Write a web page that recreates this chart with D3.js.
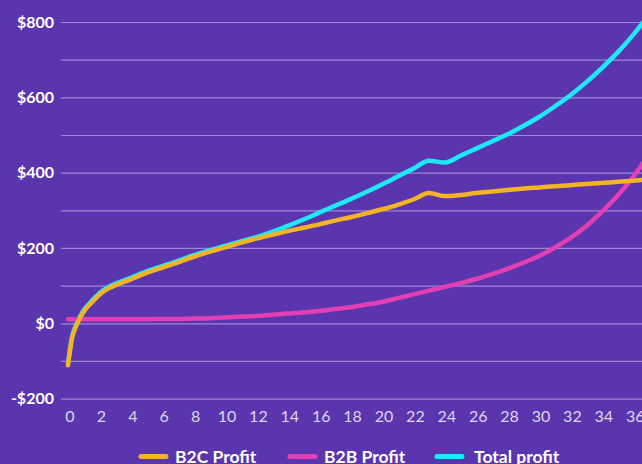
<!DOCTYPE html>
<html>
<head>
<meta charset="utf-8">
<script src="https://cdn.jsdelivr.net/npm/d3@7"></script>
<style>
  html, body { margin: 0; padding: 0; background: #5A35AE; overflow: hidden; }
  svg { display: block; }
</style>
</head>
<body>
<svg id="chart" width="642" height="464"></svg>
<script>
// ---- data ----
const months = [0, 0.25, 0.5, 0.75, 1, 1.5, 2, 2.5, 3, 4, 5, 6, 7, 8, 9, 10, 11, 12, 13, 14, 15, 16, 17, 18, 19, 20, 21, 22, 23, 24, 25, 26, 27, 28, 29, 30, 31, 32, 33, 34, 35, 36, 37];
const b2cProfit = [-110, -40, -8, 14, 32, 56, 77, 92, 102, 118, 135, 149, 163, 178, 191, 203, 215, 226, 236, 246, 255, 264, 274, 283, 293, 304, 316, 330, 347, 339, 342, 347, 351, 355, 359, 362, 365, 368, 371, 374, 377, 380, 383];
const b2bProfit = [12, 12, 12, 12, 12, 12, 12, 12, 12, 12, 12, 13, 13, 14, 15, 17, 19, 21, 24, 27, 30, 34, 39, 44, 51, 58, 68, 78, 88, 98, 108, 119, 132, 146, 162, 180, 202, 228, 259, 297, 340, 390, 450];
const totalProfit = [-106, -36, -4, 18, 36, 60, 81, 96, 106, 122, 139, 153, 167, 182, 195, 207, 219, 230, 244, 260, 277, 295, 313, 331, 350, 370, 391, 412, 433, 428, 446, 465, 484, 503, 525, 549, 577, 607, 641, 679, 720, 767, 821];
const yTicks = [-200, 0, 200, 400, 600, 800];
const yGrid = [-200, -100, 0, 100, 200, 300, 400, 500, 600, 700, 800];
const xTicks = [0, 2, 4, 6, 8, 10, 12, 14, 16, 18, 20, 22, 24, 26, 28, 30, 32, 34, 36];
const seriesNames = ["B2C Profit", "B2B Profit", "Total profit"];
const seriesColors = ["#F2B324", "#E23FB4", "#1DEAF6"];

// ---- layout ----
const W = 642, H = 464;
const svg = d3.select("#chart");

const x = d3.scaleLinear().domain([0, 36]).range([68, 68 + 36 * 15.7]);
const y = d3.scaleLinear().domain([-200, 800]).range([399.1, 22.5]);

// grid
svg.append("g").selectAll("line").data(yGrid).join("line")
  .attr("x1", 61).attr("x2", W)
  .attr("y1", d => y(d)).attr("y2", d => y(d))
  .attr("stroke", "#9D87D2").attr("stroke-width", 1.2);

// y axis labels
const yAxis = d3.axisLeft(y).tickValues(yTicks).tickSize(0).tickPadding(0)
  .tickFormat(d => (d < 0 ? "-$" : "$") + Math.abs(d));
const gy = svg.append("g").attr("transform", "translate(54,0)").call(yAxis);
gy.select(".domain").remove();
gy.selectAll("text")
  .attr("fill", "#FFFFFF")
  .style("font-family", "Lato, sans-serif")
  .style("font-size", "16px")
  .style("font-weight", "700")
  .attr("dy", "0.3em");

// x axis labels
const xAxis = d3.axisBottom(x).tickValues(xTicks).tickSize(0).tickPadding(0);
const gx = svg.append("g").attr("transform", "translate(1.5,422)").call(xAxis);
gx.select(".domain").remove();
gx.selectAll("text")
  .attr("fill", "#DDD6F0")
  .attr("dy", 0)
  .style("font-family", "Lato, sans-serif")
  .style("font-size", "16px")
  .style("font-weight", "400");

// lines
svg.append("clipPath").attr("id", "plotclip")
  .append("rect").attr("x", 0).attr("y", 0).attr("width", W).attr("height", H);

const seriesData = [b2cProfit, b2bProfit, totalProfit];
const line = d3.line()
  .x((d, i) => x(months[i]))
  .y(d => y(d))
  .curve(d3.curveMonotoneX);

const order = [2, 1, 0]; // total first, then B2B, then B2C on top
const gl = svg.append("g").attr("clip-path", "url(#plotclip)");
order.forEach(k => {
  gl.append("path")
    .datum(seriesData[k])
    .attr("d", line)
    .attr("fill", "none")
    .attr("stroke", seriesColors[k])
    .attr("stroke-width", 4.5)
    .attr("stroke-linecap", "round")
    .attr("stroke-linejoin", "round");
});

// legend
const swatchX = [139, 288, 435];
const textX = [175, 324, 474];
const lg = svg.append("g");
seriesNames.forEach((name, i) => {
  lg.append("line")
    .attr("x1", swatchX[i] + 2).attr("x2", swatchX[i] + 27)
    .attr("y1", 456.5).attr("y2", 456.5)
    .attr("stroke", seriesColors[i]).attr("stroke-width", 5)
    .attr("stroke-linecap", "round");
  lg.append("text")
    .attr("x", textX[i]).attr("y", 462.5)
    .attr("fill", "#FFFFFF")
    .style("font-family", "Lato, sans-serif")
    .style("font-size", "17.5px")
    .style("font-weight", "700")
    .text(name);
});
</script>
</body>
</html>
